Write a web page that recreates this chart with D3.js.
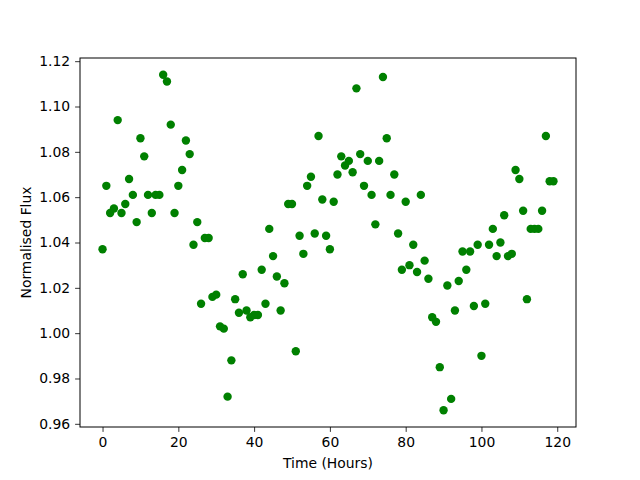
<!DOCTYPE html>
<html>
<head>
<meta charset="utf-8">
<script src="https://cdn.jsdelivr.net/npm/d3@7"></script>
<style>
  body { margin: 0; background: #fff; }
  svg { display: block; font-family: "DejaVu Sans", sans-serif; }
</style>
</head>
<body>
<svg id="chart" width="640" height="480"></svg>
<script>
// hours since start, one sample per hour
const hours = d3.range(0, 120);

// normalised flux
const flux = [
  1.037, 1.065, 1.053, 1.055, 1.094, 1.053, 1.057, 1.068, 1.061, 1.049,
  1.086, 1.078, 1.061, 1.053, 1.061, 1.061, 1.114, 1.111, 1.092, 1.053,
  1.065, 1.072, 1.085, 1.079, 1.039, 1.049, 1.013, 1.042, 1.042, 1.016,
  1.017, 1.003, 1.002, 0.972, 0.988, 1.015, 1.009, 1.026, 1.010, 1.007,
  1.008, 1.008, 1.028, 1.013, 1.046, 1.034, 1.025, 1.010, 1.022, 1.057,
  1.057, 0.992, 1.043, 1.035, 1.065, 1.069, 1.044, 1.087, 1.059, 1.043,
  1.037, 1.058, 1.070, 1.078, 1.074, 1.076, 1.071, 1.108, 1.079, 1.065,
  1.076, 1.061, 1.048, 1.076, 1.113, 1.086, 1.061, 1.070, 1.044, 1.028,
  1.058, 1.030, 1.039, 1.027, 1.061, 1.032, 1.024, 1.007, 1.005, 0.985,
  0.966, 1.021, 0.971, 1.010, 1.023, 1.036, 1.028, 1.036, 1.012, 1.039,
  0.990, 1.013, 1.039, 1.046, 1.034, 1.040, 1.052, 1.034, 1.035, 1.072,
  1.068, 1.054, 1.015, 1.046, 1.046, 1.046, 1.054, 1.087, 1.067, 1.067
];

const xTicks = [0, 20, 40, 60, 80, 100, 120];
const yTicks = [0.96, 0.98, 1.00, 1.02, 1.04, 1.06, 1.08, 1.10, 1.12];

const margin = { top: 58, right: 64, bottom: 53, left: 80 };
const width = 640 - margin.left - margin.right;
const height = 480 - margin.top - margin.bottom;

const svg = d3.select('#chart');
const g = svg.append('g').attr('transform', `translate(${margin.left},${margin.top})`);

// matplotlib-style 5% padding around the data
const xPad = (d3.max(hours) - d3.min(hours)) * 0.05;
const yPad = (d3.max(flux) - d3.min(flux)) * 0.05;

const x = d3.scaleLinear()
  .domain([d3.min(hours) - xPad, d3.max(hours) + xPad])
  .range([0, width]);

const y = d3.scaleLinear()
  .domain([d3.min(flux) - yPad, d3.max(flux) + yPad])
  .range([height, 0]);

const tick = 4.9;

const xAxis = g.append('g')
  .attr('transform', `translate(0,${height})`)
  .call(d3.axisBottom(x).tickValues(xTicks).tickFormat(d3.format('d'))
    .tickSize(tick).tickPadding(4.9).tickSizeOuter(0));

const yAxis = g.append('g')
  .call(d3.axisLeft(y).tickValues(yTicks).tickFormat(d3.format('.2f'))
    .tickSize(tick).tickPadding(4.9).tickSizeOuter(0));

[xAxis, yAxis].forEach(ax => {
  ax.select('.domain').remove();
  ax.selectAll('line').attr('stroke', '#000').attr('stroke-width', 0.8);
  ax.selectAll('text').attr('fill', '#000').style('font-size', '13.9px')
    .style('font-family', '"DejaVu Sans", sans-serif');
});

g.selectAll('circle.pt')
  .data(hours)
  .join('circle')
  .attr('class', 'pt')
  .attr('cx', (d) => x(d))
  .attr('cy', (d, i) => y(flux[i]))
  .attr('r', 4.2)
  .attr('fill', '#008000');

g.append('rect')
  .attr('width', width)
  .attr('height', height)
  .attr('fill', 'none')
  .attr('stroke', '#000')
  .attr('stroke-width', 1);

svg.append('text')
  .attr('x', margin.left + width / 2)
  .attr('y', 468)
  .attr('text-anchor', 'middle')
  .style('font-size', '13.9px')
  .text('Time (Hours)');

svg.append('text')
  .attr('transform', `translate(31,${margin.top + height / 2}) rotate(-90)`)
  .attr('text-anchor', 'middle')
  .style('font-size', '13.9px')
  .text('Normalised Flux');
</script>
</body>
</html>
